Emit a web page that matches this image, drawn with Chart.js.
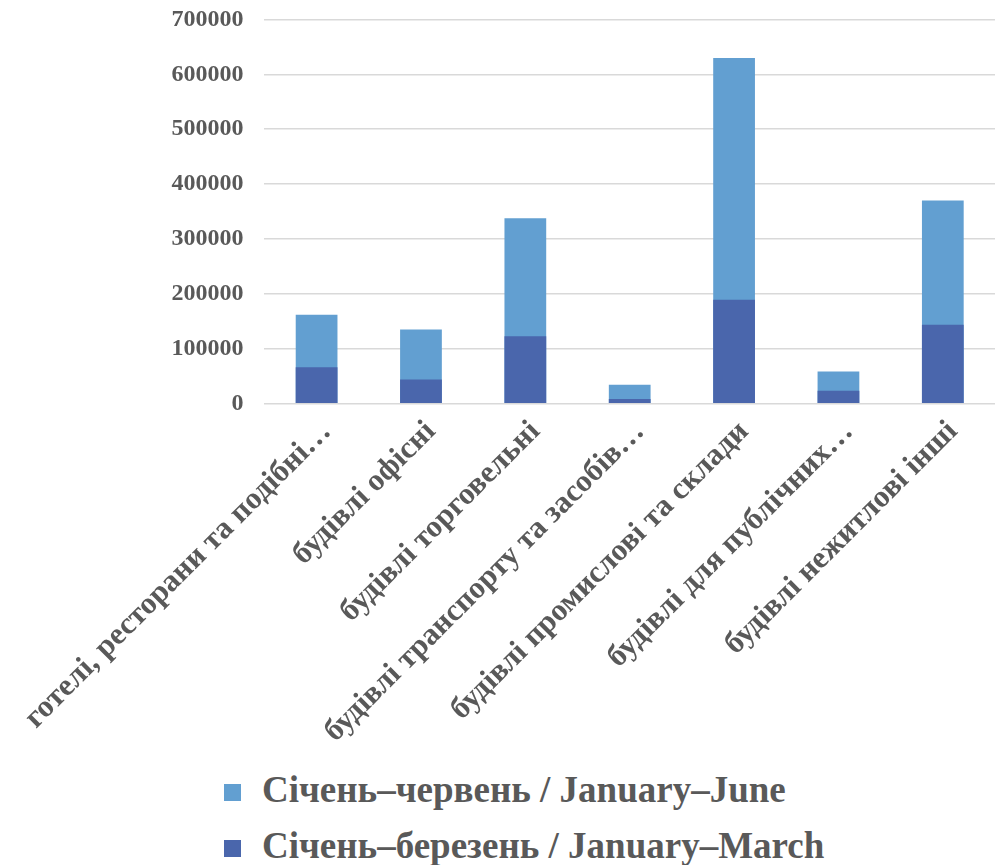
<!DOCTYPE html>
<html>
<head>
<meta charset="utf-8">
<script src="https://cdn.jsdelivr.net/npm/chart.js@4/dist/chart.umd.min.js"></script>
<style>
  body { margin: 0; background: #fff; overflow: hidden; }
  #wrap { position: relative; width: 1007px; height: 865px; overflow: hidden; }
  #chart { position: absolute; left: 0; top: -16px; }
  #legend { position: absolute; left: 224px; top: 762px; font-family: "Liberation Serif", "Times New Roman", serif;
            font-weight: bold; font-size: 37px; color: #595959; }
  #legend div { height: 56px; line-height: 56px; white-space: nowrap; }
  #legend span { display: inline-block; width: 17px; height: 17px; margin-right: 21px; vertical-align: 1px; }
</style>
</head>
<body>
<div id="wrap">
  <canvas id="chart" width="1007" height="768"></canvas>
  <div id="legend"></div>
</div>
<script>
const categories = [
  'готелі, ресторани та подібні…',
  'будівлі офісні',
  'будівлі торговельні',
  'будівлі транспорту та засобів…',
  'будівлі промислові та склади',
  'будівлі для публічних…',
  'будівлі нежитлові інші'
];
const janJune = [162000, 135000, 338000, 34500, 629500, 58500, 370000];
const janMarch = [66500, 44000, 123000, 8500, 189500, 23500, 144000];

const seriesNames = ['Січень–червень / January–June', 'Січень–березень / January–March'];
const seriesColors = ['#629fd1', '#4a66ac'];

const tickFont = { family: '"Liberation Serif", "Times New Roman", serif', weight: 'bold' };

const chart = new Chart(document.getElementById('chart').getContext('2d'), {
  type: 'bar',
  data: {
    labels: categories,
    datasets: [
      // the March totals sit in front of the half-year totals
      { label: seriesNames[1], data: janMarch, backgroundColor: seriesColors[1], order: 0 },
      { label: seriesNames[0], data: janJune, backgroundColor: seriesColors[0], order: 1 }
    ]
  },
  options: {
    responsive: false,
    animation: false,
    grouped: false,
    barPercentage: 0.4,
    categoryPercentage: 1,
    layout: { padding: { left: 141, right: 12, top: 0, bottom: 0 } },
    plugins: { legend: { display: false }, tooltip: { enabled: false } },
    scales: {
      x: {
        grid: { display: false },
        border: { display: false },
        ticks: {
          color: '#595959',
          font: Object.assign({ size: 31 }, tickFont),
          minRotation: 45,
          maxRotation: 45,
          autoSkip: false,
          labelOffset: 10,
          padding: 2
        }
      },
      y: {
        min: 0,
        max: 700000,
        border: { display: false },
        grid: { color: '#d9d9d9', lineWidth: 1.5, drawTicks: false },
        ticks: {
          stepSize: 100000,
          color: '#595959',
          font: Object.assign({ size: 24 }, tickFont),
          padding: 21,
          callback: v => String(v)
        }
      }
    }
  }
});

// legend, half-year series first
const legend = document.getElementById('legend');
[0, 1].forEach(i => {
  const row = document.createElement('div');
  const box = document.createElement('span');
  box.style.background = seriesColors[i];
  row.appendChild(box);
  row.appendChild(document.createTextNode(seriesNames[i]));
  legend.appendChild(row);
});
</script>
</body>
</html>
